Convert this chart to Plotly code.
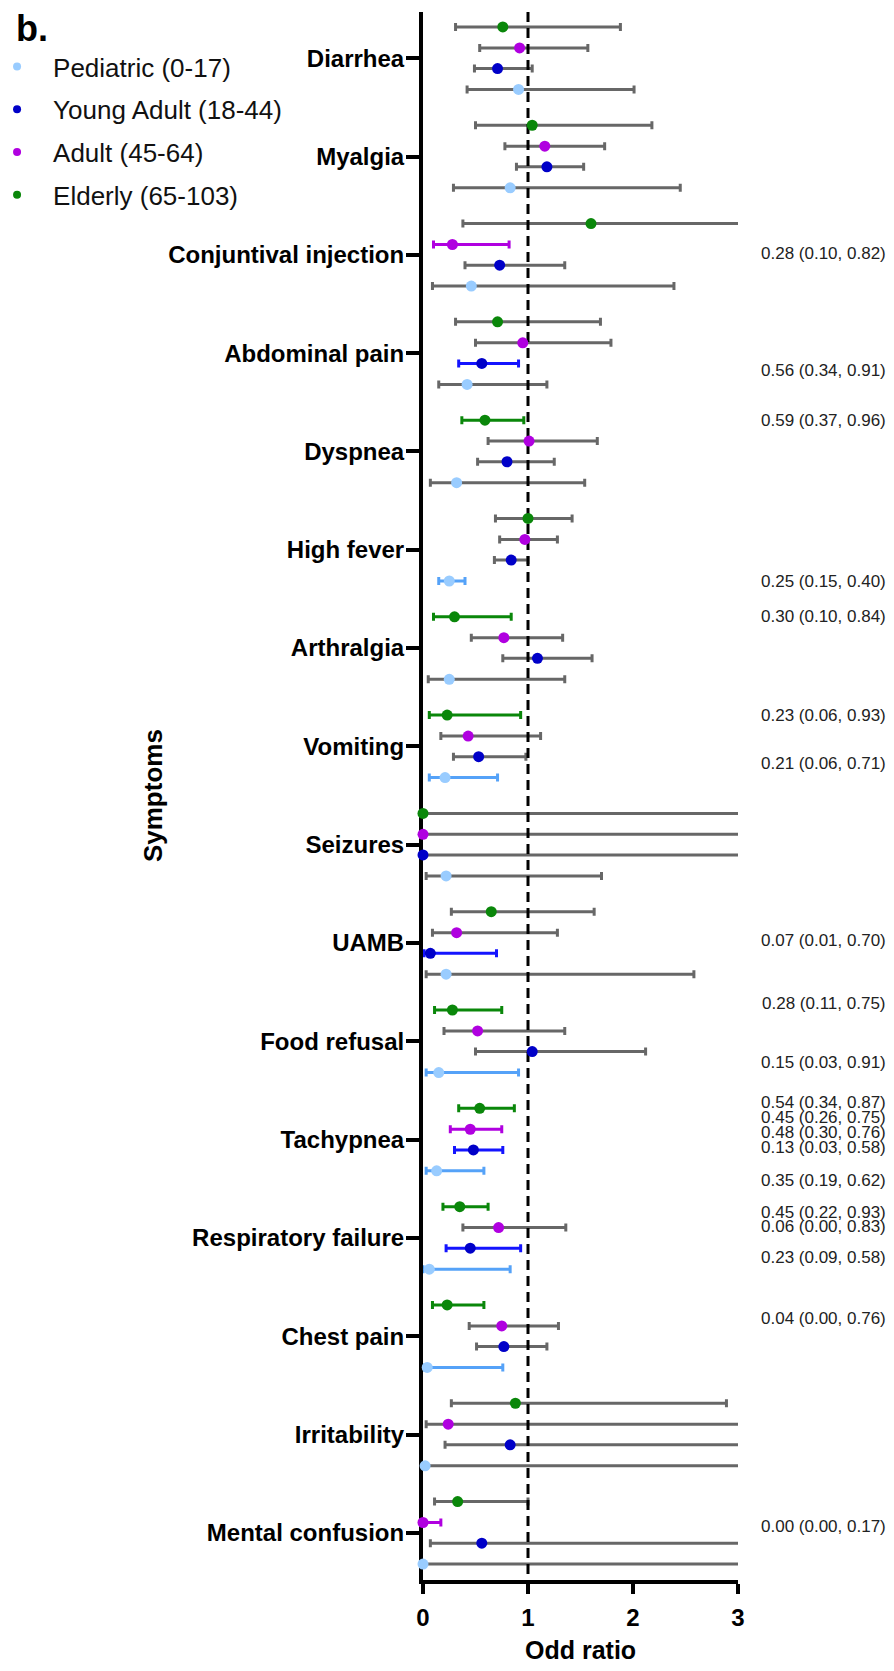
import numpy as np
import plotly.graph_objects as go

# ---------------- data ----------------
symptoms = ["Diarrhea", "Myalgia", "Conjuntival injection", "Abdominal pain", "Dyspnea",
            "High fever", "Arthralgia", "Vomiting", "Seizures", "UAMB", "Food refusal",
            "Tachypnea", "Respiratory failure", "Chest pain", "Irritability", "Mental confusion"]

group_names = ["Pediatric (0-17)", "Young Adult (18-44)", "Adult (45-64)", "Elderly (65-103)"]

# Pediatric (0-17)
ped_or = [0.91, 0.83, 0.46, 0.42, 0.32, 0.25, 0.25, 0.21, 0.22, 0.22, 0.15, 0.13, 0.06, 0.04, 0.02, 0.00]
ped_lo = [0.42, 0.29, 0.09, 0.15, 0.07, 0.15, 0.05, 0.06, 0.03, 0.03, 0.03, 0.03, 0.00, 0.00, 0.00, 0.00]
ped_hi = [2.01, 2.45, 2.39, 1.18, 1.54, 0.40, 1.35, 0.71, 1.70, 2.58, 0.91, 0.58, 0.83, 0.76, 3.50, 3.50]
ped_sig = [0, 0, 0, 0, 0, 1, 0, 1, 0, 0, 1, 1, 1, 1, 0, 0]

# Young Adult (18-44)
ya_or = [0.71, 1.18, 0.73, 0.56, 0.80, 0.84, 1.09, 0.53, 0.00, 0.07, 1.04, 0.48, 0.45, 0.77, 0.83, 0.56]
ya_lo = [0.49, 0.89, 0.40, 0.34, 0.52, 0.68, 0.76, 0.29, 0.00, 0.01, 0.50, 0.30, 0.22, 0.51, 0.21, 0.07]
ya_hi = [1.04, 1.53, 1.35, 0.91, 1.25, 1.00, 1.61, 0.98, 3.50, 0.70, 2.12, 0.76, 0.93, 1.18, 3.50, 3.50]
ya_sig = [0, 0, 0, 1, 0, 0, 0, 0, 0, 1, 0, 1, 1, 0, 0, 0]

# Adult (45-64)
ad_or = [0.92, 1.16, 0.28, 0.95, 1.01, 0.97, 0.77, 0.43, 0.00, 0.32, 0.52, 0.45, 0.72, 0.75, 0.24, 0.00]
ad_lo = [0.54, 0.78, 0.10, 0.50, 0.62, 0.73, 0.46, 0.17, 0.00, 0.09, 0.20, 0.26, 0.38, 0.44, 0.03, 0.00]
ad_hi = [1.57, 1.73, 0.82, 1.79, 1.66, 1.28, 1.33, 1.12, 3.50, 1.28, 1.35, 0.75, 1.36, 1.29, 3.50, 0.17]
ad_sig = [0, 0, 1, 0, 0, 0, 0, 0, 0, 0, 0, 1, 0, 0, 0, 1]

# Elderly (65-103)
el_or = [0.76, 1.04, 1.60, 0.71, 0.59, 1.00, 0.30, 0.23, 0.00, 0.65, 0.28, 0.54, 0.35, 0.23, 0.88, 0.33]
el_lo = [0.31, 0.50, 0.38, 0.31, 0.37, 0.69, 0.10, 0.06, 0.00, 0.27, 0.11, 0.34, 0.19, 0.09, 0.27, 0.11]
el_hi = [1.88, 2.18, 3.50, 1.69, 0.96, 1.42, 0.84, 0.93, 3.50, 1.63, 0.75, 0.87, 0.62, 0.58, 2.89, 1.00]
el_sig = [0, 0, 0, 0, 1, 0, 1, 1, 0, 0, 1, 1, 1, 1, 0, 0]

x_ticks = [0, 1, 2, 3]

# ---------------- style ----------------
FONT = "Liberation Sans, Arial, sans-serif"
dot_colors = ["#99CCFF", "#0000C8", "#B000E0", "#0A870A"]
sig_colors = ["#55A2F8", "#1414FF", "#B000E0", "#0A870A"]
gray = "#676767"
row_offsets = [0.318, 0.105, -0.105, -0.318]   # within-symptom row offsets (pediatric bottom)
# vertical nudges (px, + = up) for the significant-value labels
label_nudge = [
    [0, 0, 0, 0, 0, 0, 0, 14, 0, 0, 10, 23, 43, 49, 0, 0],
    [0, 0, 0, -7, 0, 0, 0, 0, 0, 13, 0, 17, 36, 0, 0, 0],
    [0, 0, -9, 0, 0, 0, 0, 0, 0, 0, 0, 12, 0, 0, 0, -4],
    [0, 0, 0, 0, 0, 0, 0, 0, 0, 0, 7, 6, 26, 47, 0, 0],
]

groups = [
    (ped_or, ped_lo, ped_hi, ped_sig),
    (ya_or, ya_lo, ya_hi, ya_sig),
    (ad_or, ad_lo, ad_hi, ad_sig),
    (el_or, el_lo, el_hi, el_sig),
]

Y_TOP, Y_BOT = -0.47, 15.48

fig = go.Figure()
base = np.arange(len(symptoms), dtype=float)

# whiskers
for g, (orv, lo, hi, sig) in enumerate(groups):
    orv, lo, hi, sig = map(np.asarray, (orv, lo, hi, sig))
    y = base + row_offsets[g]
    for mask, col in ((sig == 0, gray), (sig == 1, sig_colors[g])):
        if not mask.any():
            continue
        fig.add_trace(go.Scatter(
            x=orv[mask], y=y[mask], mode="markers",
            marker=dict(size=1, opacity=0, color=col),
            error_x=dict(type="data", symmetric=False,
                         array=(hi - orv)[mask], arrayminus=(orv - lo)[mask],
                         color=col, thickness=3, width=4),
            showlegend=False, hoverinfo="skip"))

# reference line at OR = 1
fig.add_trace(go.Scatter(x=[1, 1], y=[Y_TOP, Y_BOT], mode="lines",
                         line=dict(color="black", width=3, dash="10px,6px"),
                         showlegend=False, hoverinfo="skip"))

# points
for g, (orv, lo, hi, sig) in enumerate(groups):
    fig.add_trace(go.Scatter(
        x=orv, y=base + row_offsets[g], mode="markers",
        marker=dict(size=11, color=dot_colors[g], line=dict(width=0)),
        cliponaxis=False, showlegend=False, name=group_names[g]))

# legend entries
for g in range(4):
    fig.add_trace(go.Scatter(
        x=[None], y=[None], mode="markers", name=group_names[g],
        legendgroup=group_names[g],
        marker=dict(size=8, color=dot_colors[g])))

# significant-value labels
annotations = []
for g, (orv, lo, hi, sig) in enumerate(groups):
    for i in range(len(symptoms)):
        if sig[i]:
            annotations.append(dict(
                x=1.473, xref="paper", xanchor="right",
                y=base[i] + row_offsets[g], yref="y", yanchor="middle",
                yshift=label_nudge[g][i],
                text=f"{orv[i]:.2f} ({lo[i]:.2f}, {hi[i]:.2f})",
                showarrow=False, borderpad=0,
                font=dict(family=FONT, size=17, color="#222222")))

annotations += [
    dict(text="Symptoms", textangle=-90, x=-0.857, xref="paper", xanchor="center",
         y=0.5, yref="paper", yanchor="middle", showarrow=False,
         font=dict(family=FONT, size=26, color="black", weight="bold")),
    dict(text="Odd ratio", x=0.5, xref="paper", xanchor="center",
         y=-0.0448, yref="paper", yanchor="middle", showarrow=False,
         font=dict(family=FONT, size=25, color="black", weight="bold")),
    dict(text="b.", x=-1.297, xref="paper", xanchor="left",
         y=0.9895, yref="paper", yanchor="middle", showarrow=False,
         font=dict(family=FONT, size=36, color="black", weight="bold")),
]

# the page body adds an 8px offset, so the figure is sized/shifted to compensate
fig.update_layout(
    width=886, height=1655,
    margin=dict(l=415, r=156, t=4, b=83, autoexpand=False),
    paper_bgcolor="white", plot_bgcolor="white",
    font=dict(family=FONT, color="black"),
    annotations=annotations,
    legend=dict(x=-1.403, y=0.9802, xref="paper", yref="paper",
                xanchor="left", yanchor="top", itemwidth=62, tracegroupgap=6,
                font=dict(family=FONT, size=26, color="#111111"),
                bgcolor="rgba(0,0,0,0)"),
    xaxis=dict(range=[0, 3], tickvals=x_ticks, ticktext=[str(t) for t in x_ticks],
               showgrid=False, zeroline=False, showline=True, linecolor="black",
               linewidth=4, ticks="outside", ticklen=10, tickwidth=4, tickcolor="black",
               ticklabelstandoff=3,
               tickfont=dict(family=FONT, size=24, color="black", weight="bold"),
               layer="below traces"),
    yaxis=dict(range=[Y_BOT, Y_TOP], tickvals=list(base), ticktext=symptoms,
               showgrid=False, zeroline=False, showline=True, linecolor="black",
               linewidth=4, ticks="outside", ticklen=13, tickwidth=4, tickcolor="black",
               ticklabelstandoff=-3,
               tickfont=dict(family=FONT, size=24, color="black", weight="bold"),
               layer="below traces"),
)

fig.write_html("out.html")
